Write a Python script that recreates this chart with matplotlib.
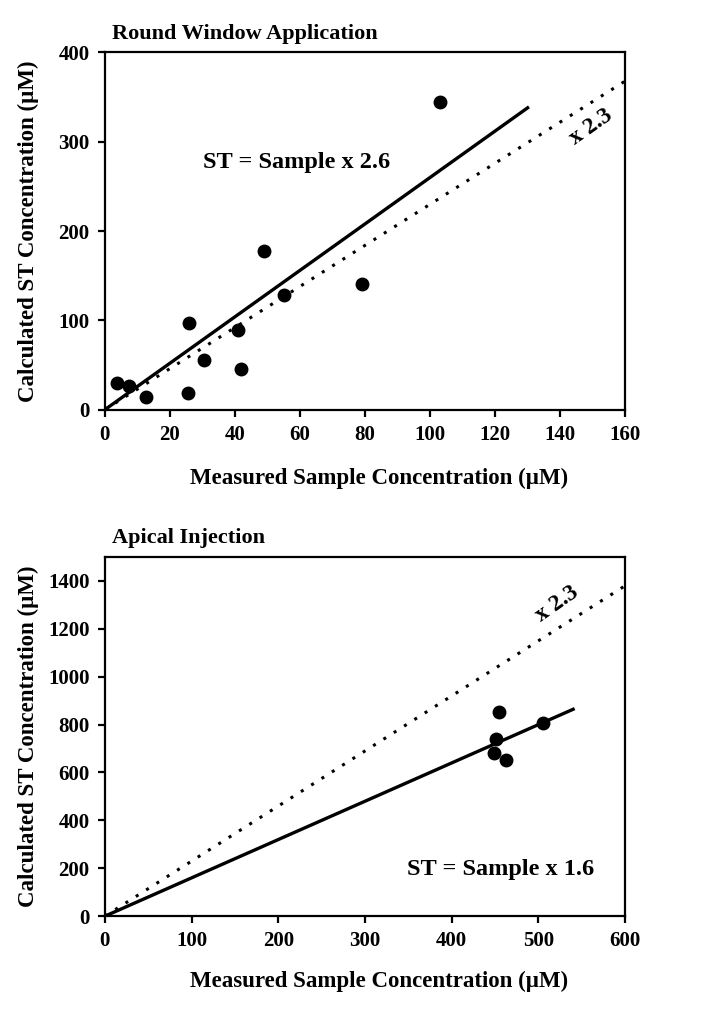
import matplotlib
matplotlib.use("Agg")
import matplotlib.pyplot as plt
import numpy as np

plt.rcParams['font.family'] = ['Liberation Serif', 'DejaVu Serif']
plt.rcParams['font.weight'] = 'bold'

# Round Window Application data
rw_x = [3.7, 7.4, 12.6, 25.5, 26.0, 30.5, 41.0, 42.0, 49.0, 55.0, 79.0, 103.0]
rw_y = [30, 26, 14, 19, 97, 56, 89, 46, 178, 128, 141, 344]
rw_fit_slope = 2.6
rw_fit_xmax = 130
ref_slope = 2.3

# Apical Injection data
ap_x = [455, 451, 449, 463, 505]
ap_y = [852, 739, 681, 652, 806]
ap_fit_slope = 1.6
ap_fit_xmax = 540

rw_xticks = [0, 20, 40, 60, 80, 100, 120, 140, 160]
rw_yticks = [0, 100, 200, 300, 400]
ap_xticks = [0, 100, 200, 300, 400, 500, 600]
ap_yticks = [0, 200, 400, 600, 800, 1000, 1200, 1400]

fig = plt.figure(figsize=(7.04, 10.09), dpi=100)
ax1 = fig.add_axes([0.149, 0.594, 0.739, 0.354])
ax2 = fig.add_axes([0.149, 0.092, 0.739, 0.356])

def style(ax, xlim, ylim, xt, yt, xlab_y):
    ax.set_xlim(*xlim)
    ax.set_ylim(*ylim)
    ax.set_xticks(xt)
    ax.set_yticks(yt)
    for s in ax.spines.values():
        s.set_linewidth(1.6)
    ax.tick_params(direction='out', length=5, width=1.6, labelsize=15, pad=6)
    for lab in ax.get_xticklabels() + ax.get_yticklabels():
        lab.set_fontweight('bold')
    ax.set_xlabel('Measured Sample Concentration (\u00b5M)', fontsize=16.5,
                  fontweight='bold')
    ax.xaxis.set_label_coords(0.527, xlab_y)
    ax.set_ylabel('Calculated ST Concentration (\u00b5M)', fontsize=16.5,
                  fontweight='bold')
    ax.yaxis.set_label_coords(-0.127, 0.5)

# Top panel
style(ax1, (0, 160), (0, 400), rw_xticks, rw_yticks, -0.163)
xr = np.array([0, 160])
ax1.plot(xr, ref_slope * xr, color='black', linestyle=(0, (1, 3)), linewidth=2.2)
xf = np.array([0, rw_fit_xmax])
ax1.plot(xf, rw_fit_slope * xf, color='black', linewidth=2.4)
ax1.plot(rw_x, rw_y, 'o', color='black', markersize=9, clip_on=False)
ax1.text(59, 277, 'ST = Sample x 2.6', fontsize=17.5, fontweight='bold',
         ha='center', va='center')
ax1.text(149.5, 316, 'x 2.3', fontsize=17, fontweight='bold', rotation=35,
         ha='center', va='center')
ax1.text(0.014, 1.025, 'Round Window Application', transform=ax1.transAxes,
         fontsize=16, fontweight='bold', ha='left', va='bottom')

# Bottom panel
style(ax2, (0, 600), (0, 1500), ap_xticks, ap_yticks, -0.153)
xr2 = np.array([0, 600])
ax2.plot(xr2, ref_slope * xr2, color='black', linestyle=(0, (1, 3)), linewidth=2.2)
xf2 = np.array([0, ap_fit_xmax])
ax2.plot(xf2, ap_fit_slope * xf2, color='black', linewidth=2.4)
ax2.plot(ap_x, ap_y, 'o', color='black', markersize=9)
ax2.text(456, 195, 'ST = Sample x 1.6', fontsize=17.5, fontweight='bold',
         ha='center', va='center')
ax2.text(521, 1305, 'x 2.3', fontsize=17, fontweight='bold', rotation=35,
         ha='center', va='center')
ax2.text(0.014, 1.025, 'Apical Injection', transform=ax2.transAxes,
         fontsize=16, fontweight='bold', ha='left', va='bottom')

fig.savefig('out.png', dpi=100, facecolor='white')
